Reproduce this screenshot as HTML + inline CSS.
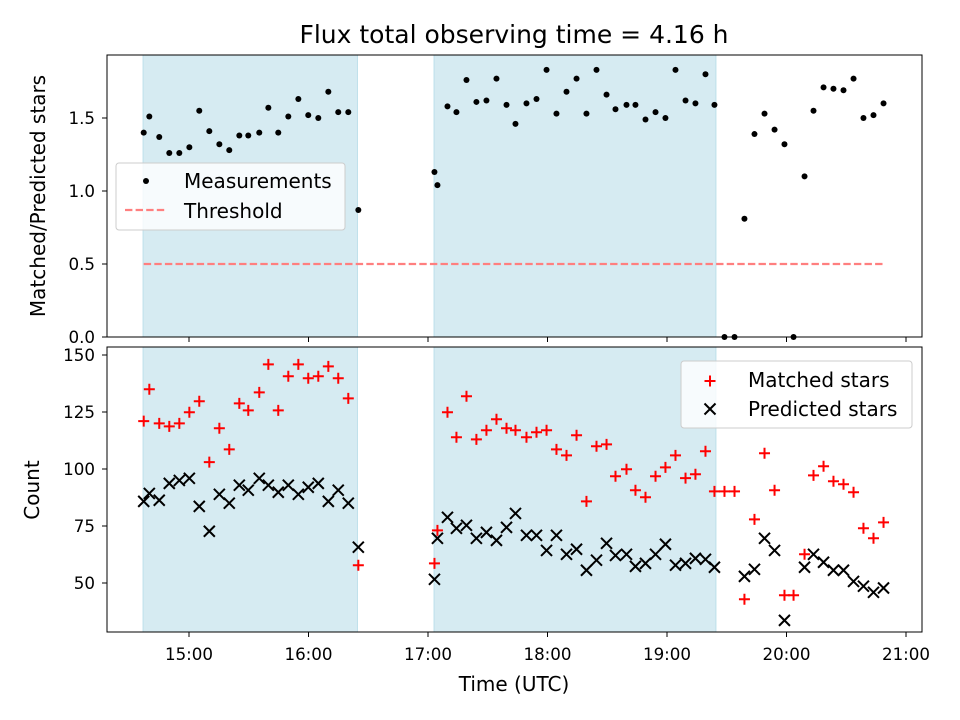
<!DOCTYPE html>
<html><head><meta charset="utf-8"><style>
body{margin:0;background:#fff}
svg{display:block;font-family:"DejaVu Sans","Liberation Sans",sans-serif}
</style></head><body>
<svg id="c" width="960" height="720" xmlns="http://www.w3.org/2000/svg"></svg>
<script>
const times = [14.621,14.668,14.751,14.835,14.919,15.003,15.086,15.170,15.254,15.337,15.421,15.496,15.588,15.664,15.747,15.831,15.915,15.998,16.082,16.166,16.249,16.333,16.417,
17.054,17.079,17.163,17.238,17.322,17.405,17.489,17.573,17.657,17.732,17.824,17.908,17.992,18.075,18.159,18.243,18.326,18.410,18.494,18.569,18.661,18.736,18.820,18.904,18.987,19.071,19.155,19.238,19.322,19.397,
19.481,19.565,19.648,19.732,19.816,19.900,19.983,20.059,20.151,20.226,20.310,20.393,20.477,20.561,20.644,20.728,20.812];
const ratio = [1.40,1.51,1.37,1.26,1.26,1.30,1.55,1.41,1.32,1.28,1.38,1.38,1.40,1.57,1.40,1.51,1.63,1.52,1.50,1.68,1.54,1.54,0.87,
1.13,1.04,1.58,1.54,1.76,1.61,1.62,1.77,1.59,1.46,1.60,1.63,1.83,1.53,1.68,1.77,1.53,1.83,1.66,1.56,1.59,1.59,1.49,1.54,1.50,1.83,1.62,1.60,1.80,1.59,
0,0,0.81,1.39,1.53,1.42,1.32,0,1.10,1.55,1.71,1.70,1.69,1.77,1.50,1.52,1.60];
const matched = [121,135,120,118.7,120,124.9,129.7,103,117.9,108.6,128.8,125.7,133.6,145.9,125.7,140.7,145.9,139.8,140.7,145,139.8,131,57.8,
58.6,73.1,124.9,113.9,131.9,113,117,121.8,117.9,117,113.9,116.1,117,108.6,106,114.8,85.8,110,110.8,96.8,99.9,90.7,87.6,96.8,100.7,106,96,97.7,107.8,90.2,
90.2,90.2,42.9,77.9,106.9,90.7,44.6,44.6,62.6,97.2,101.2,94.6,93.3,89.8,74,69.6,76.6];
const predicted = [85.8,89.3,86.3,93.7,95,95.9,83.6,72.7,88.9,85,92.9,90.7,95.9,92.9,89.8,92.9,88.9,92,93.7,85.8,90.7,85,65.7,
51.6,69.6,78.8,74,75.3,69.6,72.2,68.7,74.4,80.5,70.9,70.9,64.3,70.9,62.6,64.8,55.6,60,67.4,62.1,62.6,57.3,58.6,62.6,67,57.8,58.6,60.8,60.4,56.9,
null,null,52.9,56,69.6,64.3,33.6,null,56.9,62.6,59.1,55.6,55.6,50.7,48.6,45.9,47.8];
const spans = [[14.615,16.41],[17.05,19.41]];
const threshold = 0.5;
const thrRange = [14.621,20.812];
const xTicks = [15,16,17,18,19,20,21];
const xTickLabels = ["15:00","16:00","17:00","18:00","19:00","20:00","21:00"];
const topTicks = [0,0.5,1.0,1.5];
const topTickLabels = ["0.0","0.5","1.0","1.5"];
const botTicks = [50,75,100,125,150];
const botTickLabels = ["50","75","100","125","150"];

const NS="http://www.w3.org/2000/svg", svg=document.getElementById('c');
function el(t,a,p){const e=document.createElementNS(NS,t);for(const k in a)e.setAttribute(k,a[k]);(p||svg).appendChild(e);return e;}
const L=107,R=922;
const X=t=>189+(t-15)*119.5;
const Yt=v=>337-v*146;
const Yb=v=>583-(v-50)*2.28;
const T1=55,B1=337,T2=347,B2=632;
const FS=20, TS=16.7;

function panel(top,bot,name){
  const g=el('g',{});
  
  
  spans.forEach((s,i)=>{const r=el('rect',{x:X(s[0]),y:top,width:X(s[1])-X(s[0]),height:bot-top,fill:'#add8e6','fill-opacity':0.5,stroke:'#add8e6','stroke-opacity':0.7},g);
    
    });
  return g;
}
const gt=panel(T1,B1,'top-panel');
const gb=panel(T2,B2,'bottom-panel');

const th=el('line',{x1:X(thrRange[0]),x2:X(thrRange[1]),y1:Yt(threshold),y2:Yt(threshold),stroke:'#ff7f7f','stroke-width':2.2,'stroke-dasharray':'7.4,3.2'},gt);



times.forEach((t,i)=>{
  const c=el('circle',{cx:X(t),cy:Yt(ratio[i]),r:3,fill:'#000'},gt);
  
  
});
function plus(x,y,g,nm){const p=el('path',{d:`M${x-5.5},${y}H${x+5.5}M${x},${y-5.5}V${y+5.5}`,stroke:'#f00','stroke-width':2},g);
  
  }
function cross(x,y,g,nm){const p=el('path',{d:`M${x-5.5},${y-5.5}L${x+5.5},${y+5.5}M${x-5.5},${y+5.5}L${x+5.5},${y-5.5}`,stroke:'#000','stroke-width':2},g);
  
  }
times.forEach((t,i)=>{ if(matched[i]!=null) plus(X(t),Yb(matched[i]),gb,'matched-star-point'); });
times.forEach((t,i)=>{ if(predicted[i]!=null) cross(X(t),Yb(predicted[i]),gb,'predicted-star-point'); });

[[T1,B1,'top-axes-frame'],[T2,B2,'bottom-axes-frame']].forEach(a=>{
  const r=el('rect',{x:L,y:a[0],width:R-L,height:a[1]-a[0],fill:'none',stroke:'#000','stroke-width':1});
  
  
});
xTicks.forEach((t,i)=>{
  el('line',{x1:X(t),x2:X(t),y1:B1,y2:B1+5,stroke:'#000'});
  el('line',{x1:X(t),x2:X(t),y1:B2,y2:B2+5,stroke:'#000'});
  const tx=el('text',{x:X(t),y:B2+28,'text-anchor':'middle','font-size':TS});
  tx.textContent=xTickLabels[i];
  
  
});
topTicks.forEach((v,i)=>{
  el('line',{x1:L-5,x2:L,y1:Yt(v),y2:Yt(v),stroke:'#000'});
  const tx=el('text',{x:L-12,y:Yt(v)+6,'text-anchor':'end','font-size':TS});
  tx.textContent=topTickLabels[i];
  
  
});
botTicks.forEach((v,i)=>{
  el('line',{x1:L-5,x2:L,y1:Yb(v),y2:Yb(v),stroke:'#000'});
  const tx=el('text',{x:L-12,y:Yb(v)+6,'text-anchor':'end','font-size':TS});
  tx.textContent=botTickLabels[i];
  
  
});
function txt(s,a,nm){const t=el('text',a);t.textContent=s;return t;}
txt('Flux total observing time = 4.16 h',{x:514,y:43,'text-anchor':'middle','font-size':25},'chart-title');
txt('Time (UTC)',{x:514,y:691,'text-anchor':'middle','font-size':FS},'x-axis-title');
txt('Matched/Predicted stars',{x:0,y:0,'text-anchor':'middle','font-size':FS,transform:'translate(45,196) rotate(-90)'},'top-y-axis-title');
txt('Count',{x:0,y:0,'text-anchor':'middle','font-size':FS,transform:'translate(39,490) rotate(-90)'},'bottom-y-axis-title');

const lg1=el('g',{});


el('rect',{x:116,y:163,width:229,height:67,rx:3,fill:'#fff','fill-opacity':0.8,stroke:'#ccc'},lg1);
el('circle',{cx:146,cy:181,r:3,fill:'#000'},lg1);
el('line',{x1:125,x2:166,y1:210,y2:210,stroke:'#ff7f7f','stroke-width':2.2,'stroke-dasharray':'7.4,3.2'},lg1);
const a1=el('text',{x:184,y:188,'font-size':FS},lg1);a1.textContent='Measurements';

const a2=el('text',{x:184,y:218,'font-size':FS},lg1);a2.textContent='Threshold';


const lg2=el('g',{});


el('rect',{x:681,y:361,width:231,height:67,rx:3,fill:'#fff','fill-opacity':0.8,stroke:'#ccc'},lg2);
plus(710,381,lg2,'legend-matched-marker');
cross(710,409,lg2,'legend-predicted-marker');
const b1=el('text',{x:748,y:387,'font-size':FS},lg2);b1.textContent='Matched stars';

const b2=el('text',{x:748,y:416,'font-size':FS},lg2);b2.textContent='Predicted stars';

</script>
</body></html>
